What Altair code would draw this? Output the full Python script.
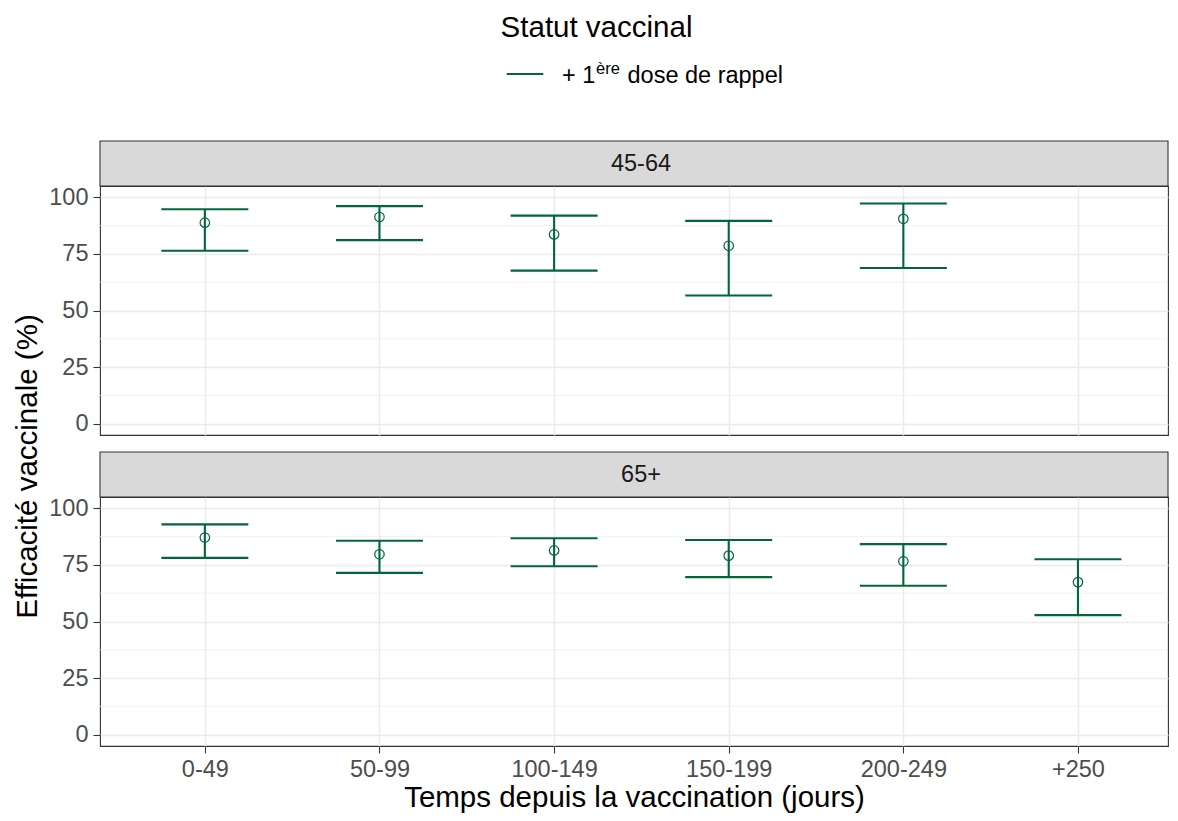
import altair as alt
import pandas as pd

# ---- data ----
categories = ["0-49", "50-99", "100-149", "150-199", "200-249", "+250"]

cats_45_64 = ["0-49", "50-99", "100-149", "150-199", "200-249"]
est_45_64 = [88.8, 91.3, 83.6, 78.6, 90.5]
low_45_64 = [76.4, 81.1, 67.6, 56.6, 68.8]
up_45_64 = [94.7, 96.1, 91.9, 89.6, 97.3]

cats_65 = ["0-49", "50-99", "100-149", "150-199", "200-249", "+250"]
est_65 = [87.1, 79.7, 81.4, 79.1, 76.6, 67.4]
low_65 = [78.1, 71.5, 74.4, 69.6, 65.8, 52.8]
up_65 = [92.9, 85.7, 86.8, 86.0, 84.2, 77.5]

y_breaks = [0, 25, 50, 75, 100]
minor_breaks = [12.5, 37.5, 62.5, 87.5]

legend_title = "Statut vaccinal"
legend_pre = "+ 1"
legend_sup = "ère"
legend_post = "dose de rappel"

GREEN = "#00673A"
FONT = "Liberation Sans"
W = 1068
H = 249

df_a = pd.DataFrame({"temps": cats_45_64, "ve": est_45_64, "lo": low_45_64, "hi": up_45_64})
df_b = pd.DataFrame({"temps": cats_65, "ve": est_65, "lo": low_65, "hi": up_65})
df_minor = pd.DataFrame({"v": minor_breaks})

yscale = alt.Scale(domain=[-5, 105], nice=False, zero=False)
xscale = alt.Scale(type="point", domain=categories, padding=0.558, align=0.538)


def panel(df, label, bottom):
    if bottom:
        xaxis = alt.Axis(
            title="Temps depuis la vaccination (jours)",
            grid=True, gridColor="#EBEBEB", gridWidth=1.5,
            domain=False, ticks=True, tickSize=7, tickColor="#333333", tickWidth=1.1,
            labelFontSize=23.5, labelColor="#4D4D4D", labelPadding=4, labelAngle=0,
            titleFontSize=29.5, titleColor="#000000", titleFontWeight="normal",
            titleBaseline="alphabetic", titlePadding=26,
        )
        yaxis = alt.Axis(
            title=None, values=y_breaks,
            grid=True, gridColor="#EBEBEB", gridWidth=1.5,
            domain=False, ticks=True, tickSize=7, tickColor="#333333", tickWidth=1.1,
            labelFontSize=23.5, labelColor="#4D4D4D", labelPadding=5,
        )
    else:
        xaxis = alt.Axis(
            title=None, grid=True, gridColor="#EBEBEB", gridWidth=1.5,
            domain=False, ticks=False, labels=False,
        )
        yaxis = alt.Axis(
            title="Efficacité vaccinale (%)", values=y_breaks,
            grid=True, gridColor="#EBEBEB", gridWidth=1.5,
            domain=False, ticks=True, tickSize=7, tickColor="#333333", tickWidth=1.1,
            labelFontSize=23.5, labelColor="#4D4D4D", labelPadding=5,
            titleFontSize=29.5, titleColor="#000000", titleFontWeight="normal",
            titlePadding=6, titleY=280,
        )

    base = alt.Chart(df)
    minor = alt.Chart(df_minor).mark_rule(color="#EBEBEB", strokeWidth=0.7).encode(
        y=alt.Y("v:Q", scale=yscale, axis=yaxis)
    )
    bars = base.mark_rule(color=GREEN, strokeWidth=2.1).encode(
        x=alt.X("temps:N", scale=xscale, sort=categories, axis=xaxis),
        y=alt.Y("lo:Q", scale=yscale),
        y2="hi:Q",
    )
    cap_lo = base.mark_tick(color=GREEN, size=87, thickness=2.1, opacity=1).encode(
        x=alt.X("temps:N", scale=xscale, sort=categories), y=alt.Y("lo:Q", scale=yscale)
    )
    cap_hi = base.mark_tick(color=GREEN, size=87, thickness=2.1, opacity=1).encode(
        x=alt.X("temps:N", scale=xscale, sort=categories), y=alt.Y("hi:Q", scale=yscale)
    )
    pts = base.mark_point(shape="circle", filled=False, color=GREEN, size=90, strokeWidth=1.2, opacity=1).encode(
        x=alt.X("temps:N", scale=xscale, sort=categories), y=alt.Y("ve:Q", scale=yscale)
    )
    sdf = pd.DataFrame({"label": [label]})
    strip = alt.Chart(sdf).mark_rect(fill="#D9D9D9", stroke="#333333", strokeWidth=1.1).encode(
        x=alt.value(0), x2=alt.value(W), y=alt.value(-45), y2=alt.value(0)
    )
    strip_txt = alt.Chart(sdf).mark_text(
        fontSize=23.5, color="#1A1A1A", font=FONT, align="center", baseline="middle"
    ).encode(text="label:N", x=alt.value(541), y=alt.value(-22.5))
    return alt.layer(minor, bars, cap_lo, cap_hi, pts, strip, strip_txt).properties(width=W, height=H)


top = panel(df_a, "45-64", False)
bot = panel(df_b, "65+", True)

ld = pd.DataFrame({"t": [legend_title], "a": [legend_pre], "s": [legend_sup], "p": [legend_post]})
lb = alt.Chart(ld)
leg_title = lb.mark_text(fontSize=29.5, font=FONT, color="#000000", align="left", baseline="alphabetic").encode(
    text="t:N", x=alt.value(400.6), y=alt.value(28)
)
leg_key = lb.mark_rule(color=GREEN, strokeWidth=2.1).encode(
    x=alt.value(406.7), x2=alt.value(443.3), y=alt.value(65)
)
leg_a = lb.mark_text(fontSize=23.5, font=FONT, color="#000000", align="left", baseline="alphabetic").encode(
    text="a:N", x=alt.value(461.9), y=alt.value(74)
)
leg_s = lb.mark_text(fontSize=16.5, font=FONT, color="#000000", align="left", baseline="alphabetic").encode(
    text="s:N", x=alt.value(496), y=alt.value(65)
)
leg_p = lb.mark_text(fontSize=23.5, font=FONT, color="#000000", align="left", baseline="alphabetic").encode(
    text="p:N", x=alt.value(527.5), y=alt.value(74)
)
legend = alt.layer(leg_title, leg_key, leg_a, leg_s, leg_p).properties(
    width=W, height=115, view=alt.ViewBackground(stroke="transparent")
)

chart = (
    alt.vconcat(legend, top, bot, spacing=62, bounds="flush")
    .properties(padding={"left": 4, "top": 0, "right": 0, "bottom": 0}, background="white")
    .configure(font=FONT)
    .configure_view(stroke="#333333", strokeWidth=1.1)
)

chart.save("out.html", embed_options={"renderer": "svg", "actions": False})
